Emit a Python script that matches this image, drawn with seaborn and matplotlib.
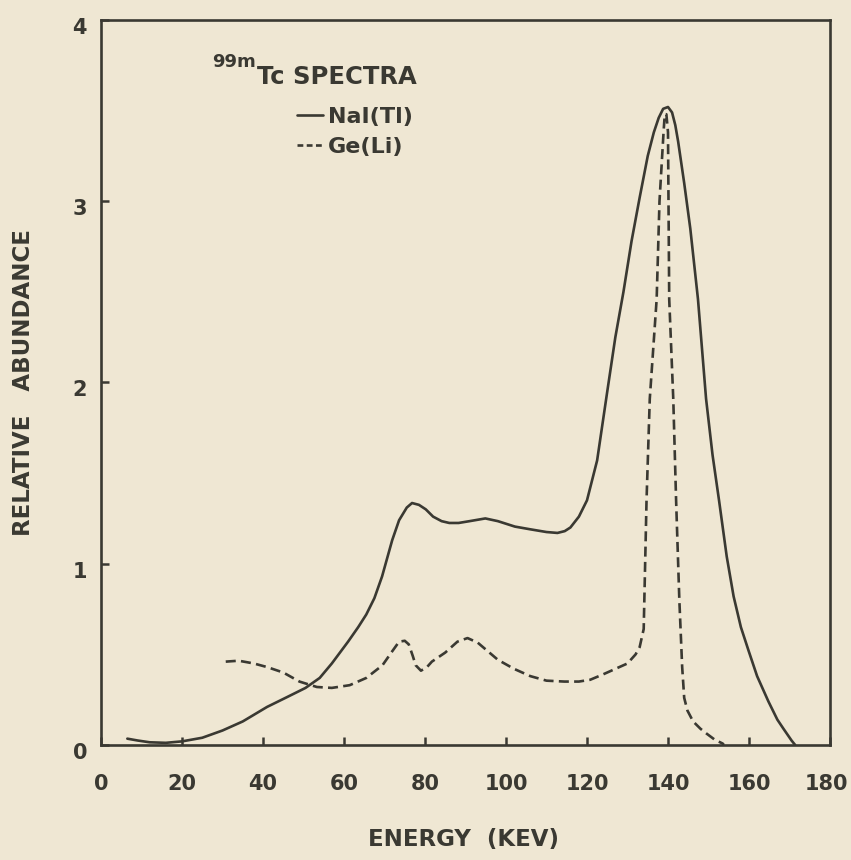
import numpy as np
import pandas as pd
import matplotlib
matplotlib.use("Agg")
import matplotlib.pyplot as plt
from matplotlib.lines import Line2D
from matplotlib.transforms import ScaledTranslation
import seaborn as sns

# ---- data ----
nai_energy = [6.5, 9, 12, 16, 20, 25, 30, 35, 41, 46, 50.5, 54, 57, 61, 63.5, 65.5,
              67.5, 69.4, 71.9, 73.6, 75.5, 76.8, 78.5, 80.2, 82, 84.1, 86, 88.3, 91,
              94.9, 98, 102.2, 106, 110, 112.7, 114.5, 115.9, 118, 120, 122.5, 125,
              127, 129, 131, 133, 135, 136.5, 137.7, 138.8, 140, 141, 141.8, 142.5,
              144, 145.5, 147.4, 149.4, 151, 152.6, 154.5, 156.2, 158, 159.9, 162,
              164.8, 167, 168.5, 170.5, 171.4]
nai_abund = [0.035, 0.025, 0.015, 0.012, 0.02, 0.04, 0.08, 0.13, 0.21, 0.265, 0.315,
             0.37, 0.45, 0.57, 0.65, 0.72, 0.81, 0.93, 1.13, 1.24, 1.31, 1.335, 1.325,
             1.30, 1.26, 1.235, 1.225, 1.225, 1.235, 1.25, 1.235, 1.205, 1.19, 1.175,
             1.17, 1.18, 1.20, 1.26, 1.35, 1.57, 1.95, 2.25, 2.50, 2.78, 3.02, 3.25,
             3.38, 3.46, 3.51, 3.52, 3.49, 3.42, 3.33, 3.10, 2.85, 2.46, 1.91, 1.60,
             1.35, 1.04, 0.82, 0.65, 0.52, 0.38, 0.24, 0.14, 0.09, 0.025, 0.0]

ge_energy = [30.8, 34, 37.7, 41, 45, 49, 53.3, 57, 61.4, 65.5, 69.5, 72, 73.6, 75,
             76, 77, 77.7, 79, 80.5, 81.7, 85, 88, 90.5, 93, 98, 102, 106, 110, 114.4,
             118, 120.8, 124, 127, 130, 132, 133, 134, 134.7, 135.5, 137.2, 137.9,
             138.9, 139.2, 139.6, 140.0, 140.3, 141.3, 142.0, 142.8, 143.5, 144.0,
             144.8, 146.2, 148, 149.4, 151.5, 153.5, 153.8]
ge_abund = [0.46, 0.465, 0.45, 0.43, 0.40, 0.35, 0.32, 0.315, 0.33, 0.37, 0.44, 0.52,
            0.57, 0.575, 0.555, 0.49, 0.44, 0.41, 0.43, 0.46, 0.51, 0.57, 0.59, 0.565,
            0.47, 0.42, 0.38, 0.355, 0.35, 0.35, 0.36, 0.39, 0.42, 0.45, 0.50, 0.54,
            0.64, 1.35, 1.91, 2.46, 3.0, 3.38, 3.48, 3.48, 3.38, 2.46, 1.91, 1.35,
            0.80, 0.43, 0.26, 0.19, 0.13, 0.09, 0.065, 0.03, 0.008, 0.0]

series_labels = ["NaI(Tl)", "Ge(Li)"]
x_ticks = [0, 20, 40, 60, 80, 100, 120, 140, 160, 180]
y_ticks = [0, 1, 2, 3, 4]
x_tick_labels = ["0", "20", "40", "60", "80", "100", "120", "140", "160", "180"]
y_tick_labels = ["0", "1", "2", "3", "4"]

# ---- styling ----
sns.set_theme(style="ticks")
plt.rcParams["font.family"] = ["DejaVu Sans"]
paper = "#efe7d3"
ink = "#3a3932"

df = pd.concat([
    pd.DataFrame({"energy": nai_energy, "abundance": nai_abund, "detector": series_labels[0]}),
    pd.DataFrame({"energy": ge_energy, "abundance": ge_abund, "detector": series_labels[1]}),
], ignore_index=True)

W, H = 851, 860
fig = plt.figure(figsize=(W / 100, H / 100), dpi=100)
fig.patch.set_facecolor(paper)
L, R, T, B = 101, 830, 20, 745
ax = fig.add_axes([L / W, 1 - B / H, (R - L) / W, (B - T) / H])
ax.set_facecolor(paper)

sns.lineplot(data=df, x="energy", y="abundance", style="detector",
             dashes={series_labels[0]: "", series_labels[1]: (3.8, 2.0)},
             color=ink, linewidth=1.9, estimator=None, sort=False,
             legend=False, ax=ax)

ax.set_xlim(0, 180)
ax.set_ylim(0, 4)
ax.set_xticks(x_ticks)
ax.set_xticklabels(x_tick_labels)
ax.set_yticks(y_ticks)
ax.set_yticklabels(y_tick_labels)
ax.tick_params(axis="x", direction="in", length=6, width=1.8, color=ink,
               pad=21, labelsize=15, labelcolor=ink)
ax.tick_params(axis="y", direction="in", length=6, width=1.8, color=ink,
               pad=10, labelsize=15, labelcolor=ink)
for lab in ax.get_xticklabels() + ax.get_yticklabels():
    lab.set_fontweight("bold")
# y labels sit slightly below their ticks in the reference
for lab in ax.get_yticklabels():
    lab.set_transform(lab.get_transform() + ScaledTranslation(0, -0.06, fig.dpi_scale_trans))
xl = ax.get_xticklabels()
xl[-1].set_transform(xl[-1].get_transform() + ScaledTranslation(-0.04, 0, fig.dpi_scale_trans))

for sp in ax.spines.values():
    sp.set_visible(True)
    sp.set_linewidth(1.9)
    sp.set_color(ink)

ax.set_xlabel("ENERGY  (KEV)", fontsize=16.5, fontweight="bold", color=ink)
ax.set_ylabel("RELATIVE   ABUNDANCE", fontsize=16.5, fontweight="bold", color=ink)
ax.xaxis.set_label_coords(0.497, -0.115)
ax.yaxis.set_label_coords(-0.09, 0.5)

def px2ax(px, py):
    return (px - L) / (R - L), (B - py) / (B - T)

tx, ty = px2ax(257, 77)
ax.text(tx, ty, "Tc SPECTRA", transform=ax.transAxes, ha="left", va="center",
        fontsize=17.5, fontweight="bold", color=ink)
sx, sy = px2ax(256, 62)
ax.text(sx, sy, "99m", transform=ax.transAxes, ha="right", va="center",
        fontsize=13, fontweight="bold", color=ink)

handles = [Line2D([], [], color=ink, linewidth=1.9, linestyle="-"),
           Line2D([], [], color=ink, linewidth=1.9, linestyle=(0, (2.2, 1.3)))]
lx, ly = px2ax(297, 107)
leg = ax.legend(handles, series_labels, loc="upper left", bbox_to_anchor=(lx, ly),
                frameon=False, borderpad=0, borderaxespad=0, handlelength=1.15,
                handletextpad=0.25, labelspacing=0.45,
                prop={"size": 16, "weight": "bold"})
for t in leg.get_texts():
    t.set_color(ink)

fig.savefig("out.png", dpi=100, facecolor=paper)
